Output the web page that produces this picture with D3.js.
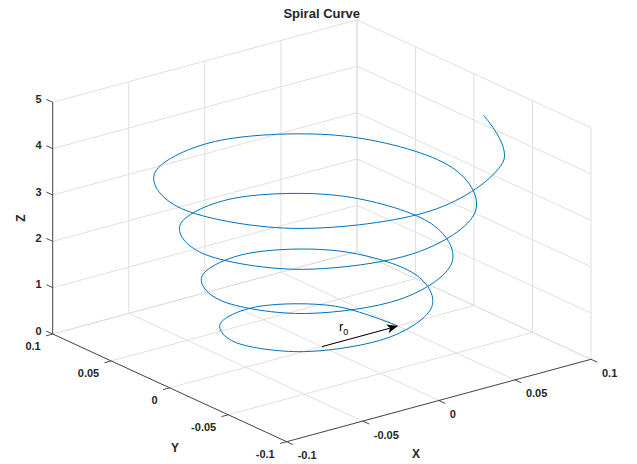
<!DOCTYPE html>
<html>
<head>
<meta charset="utf-8">
<script src="https://cdn.jsdelivr.net/npm/d3@7"></script>
<style>
  body { margin: 0; background: #fff; }
  text { font-family: "Liberation Sans", Arial, Helvetica, sans-serif; fill: #262626; }
</style>
</head>
<body>
<div class="res"></div>
<script>
/**
 * DATA
 */
const xTicks = [-0.1, -0.05, 0, 0.05, 0.1];
const yTicks = [-0.1, -0.05, 0, 0.05, 0.1];
const zTicks = [0, 1, 2, 3, 4, 5];
const xTickLabels = ['-0.1', '-0.05', '0', '0.05', '0.1'];
const yTickLabels = ['-0.1', '-0.05', '0', '0.05', '0.1'];
const zTickLabels = ['0', '1', '2', '3', '4', '5'];

// spiral nodes: angle (deg), radius, height
const spiralTheta = [0, 45, 90, 135, 180, 225, 270, 315, 360, 405, 450, 495, 540, 585, 630, 675,
    720, 765, 810, 855, 900, 945, 990, 1035, 1080, 1125, 1170, 1215, 1260, 1305, 1350, 1395, 1432];
const spiralR = [0.0500, 0.0511, 0.0521, 0.0532, 0.0543, 0.0555, 0.0566, 0.0578, 0.0590, 0.0603,
    0.0615, 0.0628, 0.0641, 0.0655, 0.0669, 0.0683, 0.0697, 0.0712, 0.0726, 0.0742, 0.0757, 0.0773,
    0.0789, 0.0806, 0.0823, 0.0840, 0.0858, 0.0876, 0.0894, 0.0913, 0.0932, 0.0951, 0.0968];
const spiralZ = [0.000, 0.135, 0.270, 0.405, 0.545, 0.700, 0.850, 0.975, 1.085, 1.195, 1.305, 1.415,
    1.535, 1.665, 1.800, 1.940, 2.080, 2.225, 2.370, 2.510, 2.650, 2.790, 2.930, 3.065, 3.200, 3.330,
    3.460, 3.595, 3.735, 3.875, 4.015, 4.160, 4.296];

// r0 arrow (data coords)
const arrowFrom = [0, 0, 0];
const arrowTo = [0.05, 0, 0];

/**
 * SVG
 */
const W = 637, H = 464;
const svg = d3.select('div.res')
    .append('svg')
    .attr('width', W)
    .attr('height', H)
    .style('background', '#fff');

/**
 * 3D -> SCREEN (orthographic, az -37.5 el 30 stretched box)
 */
const xScale = d3.scaleLinear().domain([-0.1, 0.1]).range([0, 1]);
const yScale = d3.scaleLinear().domain([-0.1, 0.1]).range([0, 1]);
const zScale = d3.scaleLinear().domain([0, 5]).range([0, 1]);

const origin = [286.7, 441.7]; // pixel of (xmin, ymin, zmin)
const ex = [304.3, -82.4];
const ey = [-234, -107.7];
const ez = [0, -231.7];

function project(x, y, z) {
    const a = xScale(x), b = yScale(y), c = zScale(z);
    return [origin[0] + a * ex[0] + b * ey[0] + c * ez[0],
            origin[1] + a * ex[1] + b * ey[1] + c * ez[1]];
}
function unit(v) {
    const l = Math.hypot(v[0], v[1]);
    return [v[0] / l, v[1] / l];
}

const gridColor = '#dfdfdf';
const axisColor = '#3a3a3a';

function seg(g, p, q, color, w) {
    g.append('line')
        .attr('x1', p[0]).attr('y1', p[1])
        .attr('x2', q[0]).attr('y2', q[1])
        .attr('stroke', color)
        .attr('stroke-width', w);
}

/**
 * GRID
 */
const grid = svg.append('g');
// floor
xTicks.forEach(x => seg(grid, project(x, -0.1, 0), project(x, 0.1, 0), gridColor, 1));
yTicks.forEach(y => seg(grid, project(-0.1, y, 0), project(0.1, y, 0), gridColor, 1));
// back wall y = ymax
xTicks.forEach(x => seg(grid, project(x, 0.1, 0), project(x, 0.1, 5), gridColor, 1));
zTicks.forEach(z => seg(grid, project(-0.1, 0.1, z), project(0.1, 0.1, z), gridColor, 1));
// back wall x = xmax
yTicks.forEach(y => seg(grid, project(0.1, y, 0), project(0.1, y, 5), gridColor, 1));
zTicks.forEach(z => seg(grid, project(0.1, -0.1, z), project(0.1, 0.1, z), gridColor, 1));

/**
 * AXES
 */
const axes = svg.append('g');
seg(axes, project(-0.1, -0.1, 0), project(0.1, -0.1, 0), axisColor, 0.9);
seg(axes, project(-0.1, -0.1, 0), project(-0.1, 0.1, 0), axisColor, 0.9);
seg(axes, project(-0.1, 0.1, 0), project(-0.1, 0.1, 5), axisColor, 0.9);

const tickLen = 7;
const dirX = unit([-ey[0], -ey[1]]); // x ticks point towards -y
const dirY = unit([-ex[0], -ex[1]]); // y ticks point towards -x
const dirZ = unit(ey);               // z ticks point towards +y

xTicks.forEach((x, i) => {
    const p = project(x, -0.1, 0);
    seg(axes, p, [p[0] + dirX[0] * tickLen, p[1] + dirX[1] * tickLen], axisColor, 0.9);
    axes.append('text')
        .attr('x', p[0] + 11).attr('y', p[1] + 17.5)
        .attr('text-anchor', 'start')
        .style('font-size', '11px').style('font-weight', 'bold')
        .text(xTickLabels[i]);
});
yTicks.forEach((y, i) => {
    const p = project(-0.1, y, 0);
    seg(axes, p, [p[0] + dirY[0] * tickLen, p[1] + dirY[1] * tickLen], axisColor, 0.9);
    axes.append('text')
        .attr('x', p[0] - 12).attr('y', p[1] + 16)
        .attr('text-anchor', 'end')
        .style('font-size', '11px').style('font-weight', 'bold')
        .text(yTickLabels[i]);
});
zTicks.forEach((z, i) => {
    const p = project(-0.1, 0.1, z);
    seg(axes, p, [p[0] + dirZ[0] * tickLen, p[1] + dirZ[1] * tickLen], axisColor, 0.9);
    axes.append('text')
        .attr('x', p[0] - 11).attr('y', p[1] + 0.8)
        .attr('text-anchor', 'end')
        .style('font-size', '11px').style('font-weight', 'bold')
        .text(zTickLabels[i]);
});

// axis labels
svg.append('text')
    .attr('x', 416).attr('y', 457.5)
    .attr('text-anchor', 'middle')
    .style('font-size', '12px').style('font-weight', 'bold')
    .text('X');
svg.append('text')
    .attr('x', 175).attr('y', 451.5)
    .attr('text-anchor', 'middle')
    .style('font-size', '12px').style('font-weight', 'bold')
    .text('Y');
svg.append('text')
    .attr('transform', 'translate(24.5, 218) rotate(-90)')
    .attr('text-anchor', 'middle')
    .style('font-size', '12px').style('font-weight', 'bold')
    .text('Z');

// title
svg.append('text')
    .attr('x', 321.7).attr('y', 18)
    .attr('text-anchor', 'middle')
    .style('font-size', '13px').style('font-weight', 'bold')
    .text('Spiral Curve');

/**
 * SPIRAL
 */
const spiral = spiralTheta.map((t, i) => {
    const a = t * Math.PI / 180;
    return project(spiralR[i] * Math.cos(a), spiralR[i] * Math.sin(a), spiralZ[i]);
});
svg.append('path')
    .attr('d', d3.line().curve(d3.curveCatmullRom.alpha(0))(spiral))
    .attr('fill', 'none')
    .attr('stroke', '#0072BD')
    .attr('stroke-width', 1);

/**
 * r0 ARROW
 */
const a0 = project(...arrowFrom);
const a1 = project(...arrowTo);
const u = unit([a1[0] - a0[0], a1[1] - a0[1]]);
const n = [-u[1], u[0]];
const headL = 11, headW = 4.5, notch = 8;
const back = [a1[0] - u[0] * headL, a1[1] - u[1] * headL];
const mid = [a1[0] - u[0] * notch, a1[1] - u[1] * notch];
svg.append('line')
    .attr('x1', a0[0]).attr('y1', a0[1])
    .attr('x2', mid[0]).attr('y2', mid[1])
    .attr('stroke', '#000')
    .attr('stroke-width', 1);
svg.append('path')
    .attr('d', d3.line()([a1,
        [back[0] + n[0] * headW, back[1] + n[1] * headW],
        mid,
        [back[0] - n[0] * headW, back[1] - n[1] * headW]]) + 'Z')
    .attr('fill', '#000');

svg.append('text')
    .attr('x', 339).attr('y', 331)
    .style('font-size', '13px')
    .style('fill', '#000')
    .text('r')
    .append('tspan')
    .attr('dy', 4)
    .style('font-size', '9px')
    .text('0');
</script>
</body>
</html>
